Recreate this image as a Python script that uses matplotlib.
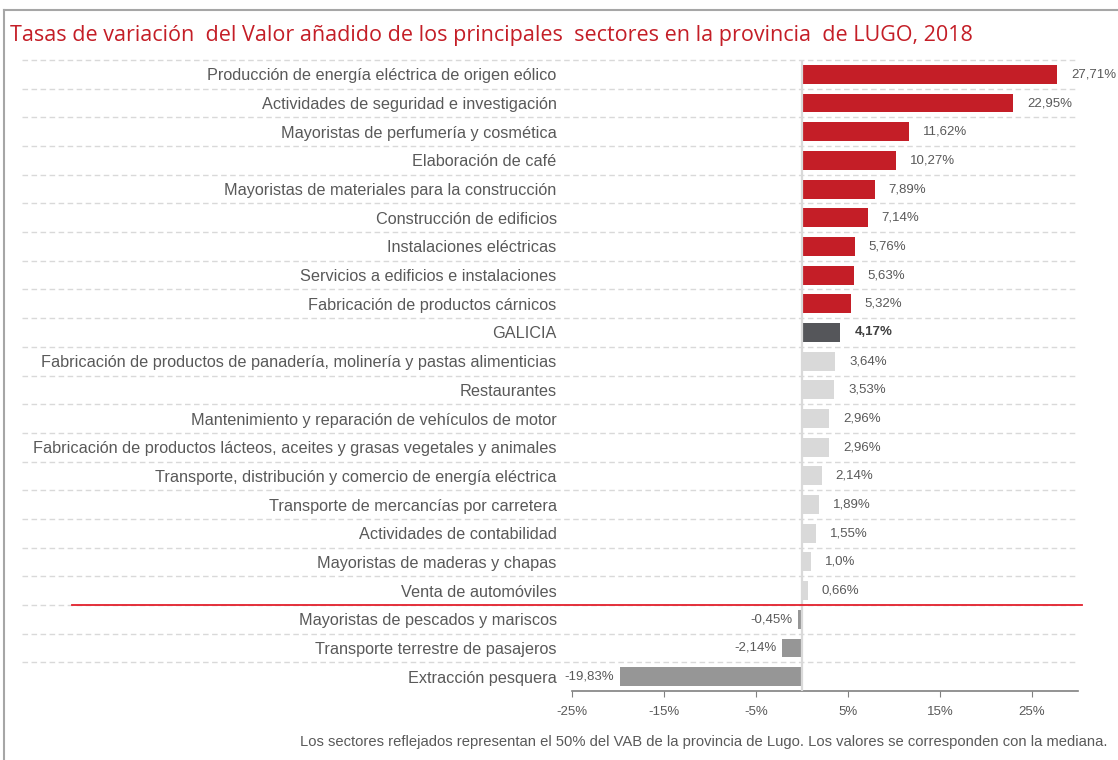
import matplotlib
matplotlib.use("Agg")
from matplotlib import pyplot as plt
from matplotlib.lines import Line2D

# Datos (de arriba a abajo)
sectores = [
    "Producción de energía eléctrica de origen eólico",
    "Actividades de seguridad e investigación",
    "Mayoristas de perfumería y cosmética",
    "Elaboración de café",
    "Mayoristas de materiales para la construcción",
    "Construcción de edificios",
    "Instalaciones eléctricas",
    "Servicios a edificios e instalaciones",
    "Fabricación de productos cárnicos",
    "GALICIA",
    "Fabricación de productos de panadería, molinería y pastas alimenticias",
    "Restaurantes",
    "Mantenimiento y reparación de vehículos de motor",
    "Fabricación de productos lácteos, aceites y grasas vegetales y animales",
    "Transporte, distribución y comercio de energía eléctrica",
    "Transporte de mercancías por carretera",
    "Actividades de contabilidad",
    "Mayoristas de maderas y chapas",
    "Venta de automóviles",
    "Mayoristas de pescados y mariscos",
    "Transporte terrestre de pasajeros",
    "Extracción pesquera",
]
valores = [27.71, 22.95, 11.62, 10.27, 7.89, 7.14, 5.76, 5.63, 5.32, 4.17,
           3.64, 3.53, 2.96, 2.96, 2.14, 1.89, 1.55, 1.0, 0.66,
           -0.45, -2.14, -19.83]
etiquetas = ["27,71%", "22,95%", "11,62%", "10,27%", "7,89%", "7,14%", "5,76%",
             "5,63%", "5,32%", "4,17%", "3,64%", "3,53%", "2,96%", "2,96%",
             "2,14%", "1,89%", "1,55%", "1,0%", "0,66%", "-0,45%", "-2,14%",
             "-19,83%"]
ticks_x = [-25, -15, -5, 5, 15, 25]

ROJO = "#C41E27"
GRIS_TXT = "#595959"

colores = []
for s, v in zip(sectores, valores):
    if s == "GALICIA":
        colores.append("#55565A")
    elif v < 0:
        colores.append("#969696")
    elif v > 5:
        colores.append(ROJO)
    else:
        colores.append("#D9D9D9")

plt.rcParams['font.family'] = ['Liberation Sans', 'DejaVu Sans']

fig = plt.figure(figsize=(11.18, 7.6), dpi=100)
ax = fig.add_axes([572 / 1118, 69 / 760, 506 / 1118, 631 / 760])

pos = list(range(len(sectores)))
ax.barh(pos, valores, height=0.66, color=colores, zorder=3)

ax.set_ylim(len(sectores) - 0.5, -0.5)
ax.set_xlim(-25, 30)

# rejilla discontinua que se extiende bajo las etiquetas
trans = ax.get_yaxis_transform()
for i in range(len(sectores)):
    ax.add_line(Line2D([-1.087, 1.0], [i - 0.5, i - 0.5], transform=trans,
                       color="#D9D9D9", lw=1, ls=(0, (4, 2.5)), clip_on=False, zorder=1))

# linea del cero
ax.axvline(0, color="#D9D9D9", lw=1.6, zorder=4)

# separador rojo entre positivos y negativos
ax.add_line(Line2D([-0.988, 1.008], [18.5, 18.5], transform=trans,
                   color="#E2202C", lw=1.3, clip_on=False, zorder=5))

# etiquetas de valores
for p, v, e, s in zip(pos, valores, etiquetas, sectores):
    if v >= 0:
        ax.annotate(e, (v, p), xytext=(10, 0), textcoords="offset points",
                    va="center", ha="left", fontsize=9.5,
                    color="#3F3F3F" if s == "GALICIA" else GRIS_TXT,
                    fontweight="bold" if s == "GALICIA" else "normal")
    else:
        ax.annotate(e, (v, p), xytext=(-4, 0), textcoords="offset points",
                    va="center", ha="right", fontsize=9.5, color=GRIS_TXT)

ax.set_yticks(pos)
ax.set_yticklabels(sectores, fontsize=11.7, color=GRIS_TXT)
ax.tick_params(axis="y", length=0, pad=11)

ax.set_xticks(ticks_x)
ax.set_xticklabels([f"{t}%" for t in ticks_x], fontsize=9.5, color=GRIS_TXT)
ax.tick_params(axis="x", length=4, color="#808080", pad=7)

for lado in ["top", "right", "left"]:
    ax.spines[lado].set_visible(False)
ax.spines["bottom"].set_color("#808080")
ax.spines["bottom"].set_linewidth(1.2)

# titulo y nota
fig.text(10 / 1118, 1 - 35 / 760,
         "Tasas de variación  del Valor añadido de los principales  sectores en la provincia  de LUGO, 2018",
         color=ROJO, fontsize=15.5, va="center", ha="left", family=["Open Sans", "DejaVu Sans"])
fig.text(1108 / 1118, 1 - 742 / 760,
         "Los sectores reflejados representan el 50% del VAB de la provincia de Lugo. Los valores se corresponden con la mediana.",
         color=GRIS_TXT, fontsize=10.6, va="center", ha="right")

# marco gris (arriba e izquierda)
fig.add_artist(Line2D([4 / 1118, 4 / 1118], [0, 1 - 10 / 760], transform=fig.transFigure,
                      color="#A6A6A6", lw=1.5))
fig.add_artist(Line2D([4 / 1118, 1], [1 - 10 / 760, 1 - 10 / 760], transform=fig.transFigure,
                      color="#A6A6A6", lw=1.5))

plt.savefig("out.png", dpi=100)
